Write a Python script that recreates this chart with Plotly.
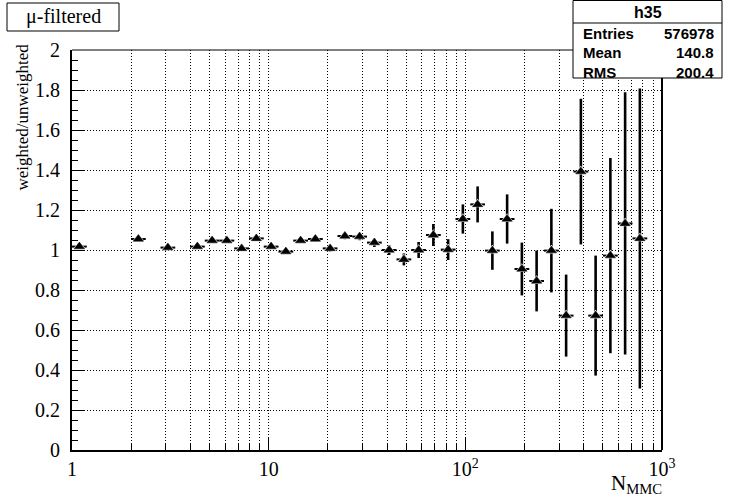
import numpy as np
import plotly.graph_objects as go

# Histogram binning: 40 log-spaced bins between 1 and 1000
n_bins = 40
x_min, x_max = 1, 1000
filled_bins = [0, 4, 6, 8, 9, 10, 11, 12, 13, 14, 15, 16, 17, 18, 19, 20, 21, 22, 23,
               24, 25, 26, 27, 28, 29, 30, 31, 32, 33, 34, 35, 36, 37, 38]
ratio = [1.017, 1.055, 1.012, 1.017, 1.047, 1.047, 1.008, 1.058, 1.017, 0.992, 1.047,
         1.055, 1.008, 1.070, 1.067, 1.037, 1.000, 0.953, 1.000, 1.075, 1.002, 1.155,
         1.228, 0.997, 1.155, 0.905, 0.845, 0.997, 0.672, 1.392, 0.672, 0.972, 1.133, 1.058]
ratio_err = [0.008, 0.010, 0.010, 0.010, 0.010, 0.010, 0.010, 0.012, 0.012, 0.012, 0.012,
             0.014, 0.015, 0.016, 0.018, 0.022, 0.025, 0.030, 0.040, 0.055, 0.052, 0.073,
             0.090, 0.096, 0.123, 0.132, 0.152, 0.209, 0.205, 0.364, 0.300, 0.488, 0.656, 0.750]

x_tickvals = [1, 10, 100, 1000]
x_ticktext = ["1", "10", "10<sup>2</sup>", "10<sup>3</sup>"]
y_tickvals = [0, 0.2, 0.4, 0.6, 0.8, 1, 1.2, 1.4, 1.6, 1.8, 2]
y_ticktext = ["0", "0.2", "0.4", "0.6", "0.8", "1", "1.2", "1.4", "1.6", "1.8", "2"]

stats_title = "h35"
stats_labels = ["Entries", "Mean", "RMS"]
stats_values = ["576978", "140.8", "200.4"]

edges = np.logspace(np.log10(x_min), np.log10(x_max), n_bins + 1)
lo = np.array([edges[k] for k in filled_bins])
hi = np.array([edges[k + 1] for k in filled_bins])
xc = np.sqrt(lo * hi)

fig = go.Figure()
# error bars
fig.add_trace(go.Scatter(
    x=xc, y=ratio, mode="markers",
    marker=dict(symbol="circle", size=1, color="black"),
    error_x=dict(type="data", symmetric=False, array=hi - xc, arrayminus=xc - lo,
                 color="black", thickness=2, width=0),
    error_y=dict(type="data", array=ratio_err, color="black", thickness=2.6, width=0),
    showlegend=False, hoverinfo="skip",
))
# white halo giving the small gap between marker and error bars
fig.add_trace(go.Scatter(
    x=xc, y=ratio, mode="markers",
    marker=dict(symbol="triangle-up", size=11.5, color="white"),
    showlegend=False, hoverinfo="skip",
))
# markers
fig.add_trace(go.Scatter(
    x=xc, y=ratio, mode="markers",
    marker=dict(symbol="triangle-up", size=9, color="black",
                line=dict(color="black", width=0.5)),
    showlegend=False,
))

minor_x = [m * 10 ** d for d in range(3) for m in range(2, 10)]

W, H = 735, 500
L, R, T, B = 72, 662, 50, 450
pw, ph = R - L, B - T


def px(x):
    return (x - L) / pw


def py(y):
    return (B - y) / ph


serif = "Liberation Serif"
sans = "Liberation Sans"

fig.update_layout(
    width=W, height=H,
    margin=dict(l=L, r=W - R, t=T, b=H - B),
    paper_bgcolor="white", plot_bgcolor="white",
    xaxis=dict(
        type="log", range=[0, 3], showline=True, linecolor="black", linewidth=2,
        ticks="inside", ticklen=12, tickwidth=1, tickcolor="black",
        tickvals=x_tickvals, ticktext=x_ticktext,
        tickfont=dict(family=serif, size=20, color="black"),
        showgrid=True, gridcolor="black", gridwidth=1, griddash="1px,2px",
        minor=dict(tickvals=minor_x, ticks="inside", ticklen=7, tickcolor="black",
                   showgrid=True, gridcolor="black", gridwidth=1, griddash="1px,2px"),
        zeroline=False,
    ),
    yaxis=dict(
        range=[0, 2], showline=True, linecolor="black", linewidth=2,
        ticks="inside", ticklen=12, tickwidth=1, tickcolor="black",
        tickvals=y_tickvals, ticktext=y_ticktext,
        tickfont=dict(family=serif, size=20, color="black"),
        ticklabelstandoff=6,
        showgrid=True, gridcolor="black", gridwidth=1, griddash="1px,2px",
        minor=dict(dtick=0.05, ticks="inside", ticklen=6, tickcolor="black", showgrid=False),
        zeroline=False,
    ),
)

shapes = [
    # top and right frame
    dict(type="line", xref="paper", yref="paper", x0=0, x1=1, y0=1, y1=1,
         line=dict(color="black", width=1)),
    dict(type="line", xref="paper", yref="paper", x0=1, x1=1, y0=0, y1=1,
         line=dict(color="black", width=2)),
    # title box
    dict(type="rect", xref="paper", yref="paper", x0=px(7), x1=px(119), y0=py(31), y1=py(3),
         line=dict(color="black", width=1), fillcolor="white", layer="above"),
    # stats box
    dict(type="rect", xref="paper", yref="paper", x0=px(573), x1=px(722), y0=py(78), y1=py(0.5),
         line=dict(color="black", width=1), fillcolor="white", layer="above"),
    dict(type="line", xref="paper", yref="paper", x0=px(573), x1=px(722), y0=py(23), y1=py(23),
         line=dict(color="black", width=1), layer="above"),
]
fig.update_layout(shapes=shapes)

ann = [
    dict(text="\u03bc-filtered", x=px(63), y=py(17), xanchor="center", yanchor="middle",
         font=dict(family=serif, size=20, color="black")),
    dict(text="weighted/unweighted", x=px(22), y=py(42), xanchor="center", yanchor="top",
         textangle=-90, font=dict(family=serif, size=17, color="black")),
    dict(text="N<sub>MMC</sub>", x=px(664), y=py(484), xanchor="right", yanchor="middle",
         font=dict(family=serif, size=21, color="black")),
    dict(text="<b>%s</b>" % stats_title, x=px(648), y=py(12), xanchor="center", yanchor="middle",
         font=dict(family=sans, size=16, color="black")),
]
rows_y = [33, 52.5, 72]
for lab, val, yy in zip(stats_labels, stats_values, rows_y):
    ann.append(dict(text="<b>%s</b>" % lab, x=px(581), y=py(yy), xanchor="left", yanchor="middle",
                    font=dict(family=sans, size=15, color="black")))
    ann.append(dict(text="<b>%s</b>" % val, x=px(716), y=py(yy), xanchor="right", yanchor="middle",
                    font=dict(family=sans, size=15, color="black")))
for a in ann:
    a.update(xref="paper", yref="paper", showarrow=False)
fig.update_layout(annotations=ann)

# remove the default page margin so the figure sits at the window's top-left corner
fig.write_html("out.html", config={"displayModeBar": False},
               post_script="document.body.style.margin='0';")
